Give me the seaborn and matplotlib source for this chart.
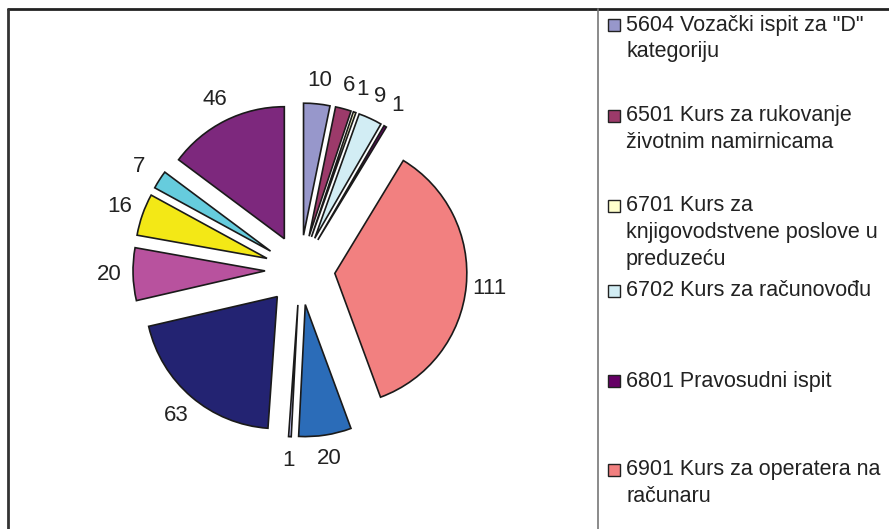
import matplotlib
matplotlib.use("Agg")
import matplotlib.pyplot as plt
from matplotlib.patches import Rectangle
from matplotlib.lines import Line2D
import seaborn as sns

sns.set_theme(style="white")
plt.rcParams["font.family"] = ["Liberation Sans", "DejaVu Sans"]

# ---- data (clockwise from 12 o'clock) ----
values = [10, 6, 1, 9, 1, 111, 20, 1, 63, 20, 16, 7, 46]
slice_colors = ["#9797CB", "#9C3A6A", "#FFFFCC", "#D2EDF4", "#660066",
                "#F28080", "#2B6CB8", "#CCCCFF", "#232372", "#B8529E",
                "#F3E816", "#66CCDD", "#7D287D"]
legend_labels = ["5604 Vozački ispit za \"D\"\nkategoriju",
                 "6501 Kurs za rukovanje\nživotnim namirnicama",
                 "6701 Kurs za\nknjigovodstvene poslove u\npreduzeću",
                 "6702 Kurs za računovođu",
                 "6801 Pravosudni ispit",
                 "6901 Kurs za operatera na\nračunaru"]
legend_colors = slice_colors[:6]

W, H = 889, 529
fig = plt.figure(figsize=(W / 100, H / 100), dpi=100)

# pie axes: pixel mapping, center (300,270) px, radius 132 px
R = 132.0
cx, cy = 300.0, 270.0
ax_l, ax_r, ax_t, ax_b = 10, 598, 10, 529
ax = fig.add_axes([ax_l / W, 1 - ax_b / H, (ax_r - ax_l) / W, (ax_b - ax_t) / H])
ax.set_axis_off()

val_iter = iter(values)
wedges, texts, autotexts = ax.pie(
    values, colors=slice_colors, startangle=90, counterclock=False,
    explode=[0.265] * len(values), radius=1.0,
    autopct=lambda p: str(next(val_iter)), pctdistance=1.18,
    wedgeprops=dict(edgecolor="#1a1a1a", linewidth=1.2),
    textprops=dict(fontsize=16, color="#222222"))
ax.set_aspect("auto")
ax.set_xlim((ax_l - cx) / R, (ax_r - cx) / R)
ax.set_ylim(-(ax_b - cy) / R, (cy - ax_t) / R)

# ---- frame lines ----
fig.add_artist(Line2D([8 / W, 1], [1 - 9 / H, 1 - 9 / H], color="#222222", lw=2.0))
fig.add_artist(Line2D([8 / W, 8 / W], [0, 1 - 9 / H], color="#333333", lw=2.0))
fig.add_artist(Line2D([598 / W, 598 / W], [0, 1 - 9 / H], color="#777777", lw=1.2))

# ---- legend (manual, first line aligned with marker) ----
first_line_y = [25, 116, 206, 291, 381, 470]
line_h = 26.5
for lab, col, y0 in zip(legend_labels, legend_colors, first_line_y):
    fig.add_artist(Rectangle((608 / W, 1 - (y0 + 6) / H), 12 / W, 12 / H,
                             facecolor=col, edgecolor="#222222", lw=1.0,
                             transform=fig.transFigure))
    for i, line in enumerate(lab.split("\n")):
        fig.text(626 / W, 1 - (y0 + i * line_h) / H, line, fontsize=15.5,
                 color="#222222", ha="left", va="center")

fig.savefig("out.png", dpi=100)
